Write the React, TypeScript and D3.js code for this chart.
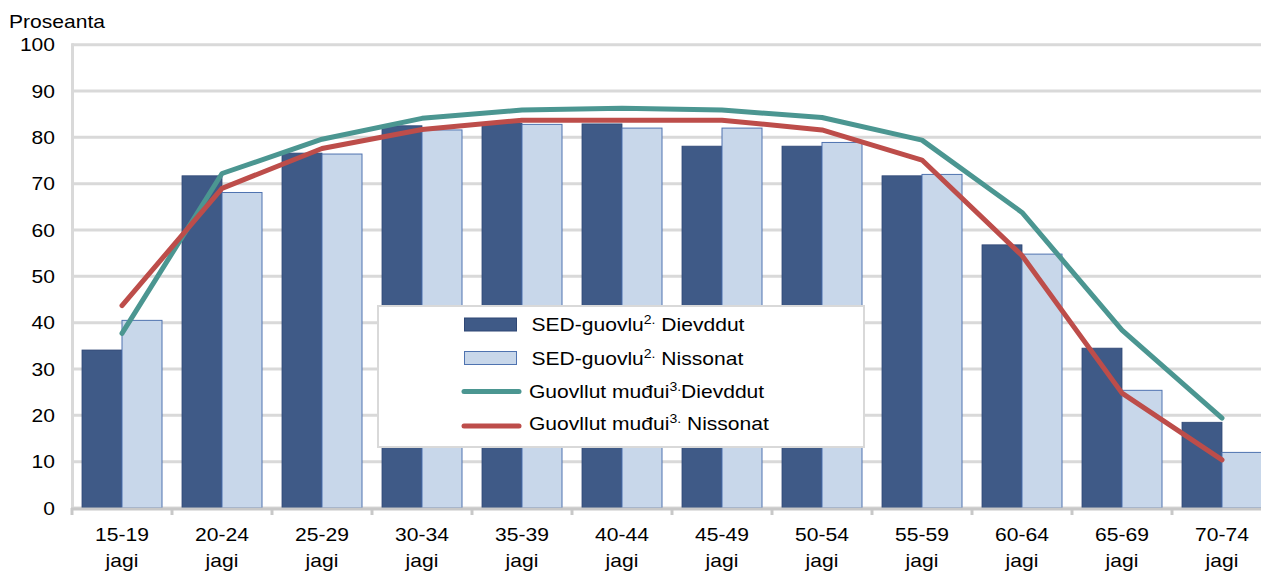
import React from "react";
import * as d3 from "d3";

const categories = ["15-19", "20-24", "25-29", "30-34", "35-39", "40-44", "45-49", "50-54", "55-59", "60-64", "65-69", "70-74"];
const sedMen = [34.1, 71.7, 76.6, 82.5, 83.0, 82.9, 78.1, 78.1, 71.7, 56.8, 34.5, 18.5];
const sedWomen = [40.5, 68.1, 76.4, 81.6, 82.8, 82.0, 82.0, 78.9, 72.0, 54.8, 25.4, 12.0];
const otherMen = [37.7, 72.2, 79.6, 84.1, 85.9, 86.3, 85.9, 84.3, 79.4, 63.8, 38.4, 19.4];
const otherWomen = [43.7, 69.0, 77.6, 81.7, 83.7, 83.7, 83.7, 81.6, 75.1, 54.5, 24.8, 10.4];
const yTicks = [0, 10, 20, 30, 40, 50, 60, 70, 80, 90, 100];

const W = 1261;
const H = 574;
const FONT = "'Liberation Sans', Arial, sans-serif";
const SX = 1.17;

const x = d3.scaleBand<string>().domain(categories).range([72, 1272]).paddingInner(0.2).paddingOuter(0.1);
const sub = d3.scaleBand<string>().domain(["m", "w"]).range([0, x.bandwidth()]);
const y = d3.scaleLinear().domain([0, 100]).range([508, 44.7]);
const step = x.step();
const cx = (c: string) => (x(c) as number) + x.bandwidth() / 2;

const lineGen = d3
  .line<number>()
  .x((_, i) => cx(categories[i]))
  .y((d) => y(d));

function T({ x: tx, y: ty, anchor = "start", children, size = 18 }: any) {
  return (
    <text
      transform={`translate(${tx},${ty}) scale(${SX},1)`}
      textAnchor={anchor}
      fontFamily={FONT}
      fontSize={size}
      fill="#000"
    >
      {children}
    </text>
  );
}

export default function App() {
  const legendX = 378;
  const legendY = 306;
  const rows = [
    { type: "bar", fill: "#3f5a87", stroke: "#2f4775", main: "SED-guovlu", sup: "2.", rest: " Dievddut", ty: 331, tx: 531.5 },
    { type: "bar", fill: "#c8d7ea", stroke: "#4f73b0", main: "SED-guovlu", sup: "2.", rest: " Nissonat", ty: 364.5, tx: 531.5 },
    { type: "line", color: "#4b9691", main: "Guovllut muđui", sup: "3.", rest: "Dievddut", ty: 397.5, tx: 529 },
    { type: "line", color: "#bd4d4a", main: "Guovllut muđui", sup: "3.", rest: " Nissonat", ty: 430, tx: 529 },
  ];
  const swatchCY = [324.5, 358, 391.5, 426];
  return (
    <svg width={W} height={H} style={{ position: "absolute", left: 0, top: 0 }}>
      <rect x={0} y={0} width={W} height={H} fill="#fff" />
      {/* gridlines */}
      {yTicks.map((t) => (
        <line key={t} x1={72} x2={1272} y1={y(t)} y2={y(t)} stroke="#d9d9d9" strokeWidth={3} />
      ))}
      {/* y axis */}
      <line x1={72.5} x2={72.5} y1={y(100) - 1.5} y2={y(0)} stroke="#d9d9d9" strokeWidth={3} />
      {yTicks.map((t) => (
        <T key={t} x={55} y={y(t) + 6.5} anchor="end">
          {t}
        </T>
      ))}
      <T x={9} y={28}>Proseanta</T>
      {/* bars */}
      {categories.map((c, i) => (
        <g key={c}>
          <rect
            x={(x(c) as number) + (sub("m") as number)}
            y={y(sedMen[i])}
            width={sub.bandwidth()}
            height={y(0) - y(sedMen[i])}
            fill="#3f5a87"
            stroke="#2f4775"
            strokeWidth={0.8}
          />
          <rect
            x={(x(c) as number) + (sub("w") as number)}
            y={y(sedWomen[i])}
            width={sub.bandwidth()}
            height={y(0) - y(sedWomen[i])}
            fill="#c8d7ea"
            stroke="#4f73b0"
            strokeWidth={1}
          />
        </g>
      ))}
      {/* x axis */}
      <line x1={71} x2={1272} y1={y(0) + 1} y2={y(0) + 1} stroke="#c8c8c8" strokeWidth={3} />
      {d3.range(categories.length + 1).map((i) => (
        <line key={i} x1={72 + i * step} x2={72 + i * step} y1={y(0)} y2={y(0) + 7} stroke="#c8c8c8" strokeWidth={3} />
      ))}
      {categories.map((c) => (
        <g key={c}>
          <T x={cx(c)} y={541} anchor="middle">
            {c}
          </T>
          <T x={cx(c)} y={567} anchor="middle">
            jagi
          </T>
        </g>
      ))}
      {/* lines */}
      <path d={lineGen(otherMen) as string} fill="none" stroke="#4b9691" strokeWidth={5} strokeLinecap="round" strokeLinejoin="round" />
      <path d={lineGen(otherWomen) as string} fill="none" stroke="#bd4d4a" strokeWidth={5} strokeLinecap="round" strokeLinejoin="round" />
      {/* legend */}
      <rect x={legendX} y={legendY} width={486} height={141} fill="#fff" stroke="#d9d9d9" strokeWidth={2} />
      {rows.map((r, i) => (
        <g key={i}>
          {r.type === "bar" ? (
            <rect x={464.5} y={swatchCY[i] - 6.5} width={52} height={13} fill={r.fill} stroke={r.stroke} strokeWidth={1} />
          ) : (
            <line x1={464} x2={519} y1={swatchCY[i]} y2={swatchCY[i]} stroke={r.color} strokeWidth={5} strokeLinecap="round" />
          )}
          <T x={r.tx} y={r.ty}>
            {r.main}
            <tspan fontSize={12} dy={-7}>
              {r.sup}
            </tspan>
            <tspan dy={7} xmlSpace="preserve">{r.rest}</tspan>
          </T>
        </g>
      ))}
    </svg>
  );
}
